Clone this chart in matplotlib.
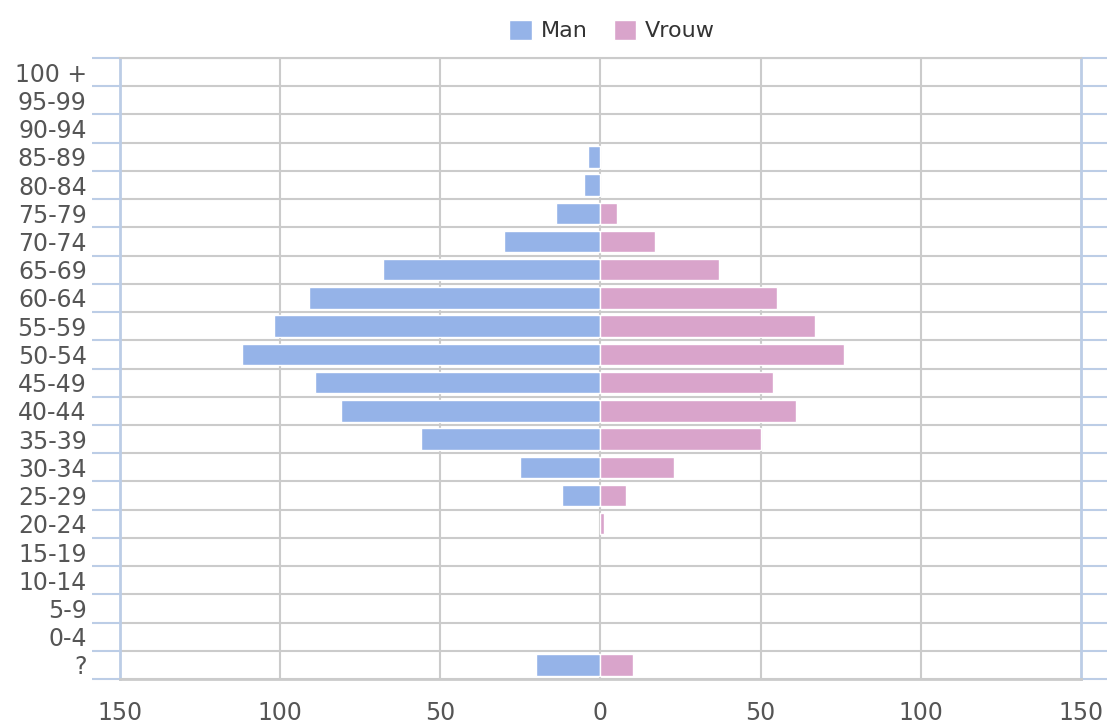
import matplotlib
matplotlib.use("Agg")
import matplotlib.pyplot as plt
import numpy as np

# leeftijdsgroepen, van boven naar beneden
categories = ['100 +', '95-99', '90-94', '85-89', '80-84', '75-79', '70-74', '65-69',
              '60-64', '55-59', '50-54', '45-49', '40-44', '35-39', '30-34', '25-29',
              '20-24', '15-19', '10-14', '5-9', '0-4', '?']
man = [0, 0, 0, 4, 5, 14, 30, 68, 91, 102, 112, 89, 81, 56, 25, 12, 0, 0, 0, 0, 0, 20]
vrouw = [0, 0, 0, 0, 0, 5, 17, 37, 55, 67, 76, 54, 61, 50, 23, 8, 1, 0, 0, 0, 0, 10]
xticks = [-150, -100, -50, 0, 50, 100, 150]

MAN_COLOR = '#95b3e8'
VROUW_COLOR = '#d9a4cb'
GRID = '#cbcbcb'
AXIS_BLUE = '#bccde6'
TEXT = '#555555'

fig = plt.figure(figsize=(11.07, 7.26), dpi=100)
ax = fig.add_axes([0.1084, 0.0647, 0.8681, 0.8554])

y = np.arange(len(categories))
man_arr = np.array(man)
vrouw_arr = np.array(vrouw)
# alleen groepen met waarde tekenen, anders wist de witte rand de nul-lijn
m = man_arr > 0
ax.barh(y[m], -man_arr[m], height=0.76, color=MAN_COLOR, edgecolor='white',
        linewidth=1, label='Man', zorder=3)
v = vrouw_arr > 0
ax.barh(y[v], vrouw_arr[v], height=0.76, color=VROUW_COLOR, edgecolor='white',
        linewidth=1, label='Vrouw', zorder=3)

ax.set_xlim(-150, 150)
ax.set_ylim(len(categories) - 0.5, -0.5)

# x-as
ax.set_xticks(xticks)
ax.set_xticklabels([str(abs(t)) for t in xticks])
ax.tick_params(axis='x', length=0, pad=16, labelsize=17, labelcolor=TEXT)
for t in xticks[1:-1]:
    ax.axvline(t, color=GRID, lw=1.5, zorder=1)

# y-as: labels in het midden, lijnen op de grenzen
ax.set_yticks(y)
ax.set_yticklabels(categories)
ax.tick_params(axis='y', which='major', length=0, pad=24, labelsize=17, labelcolor=TEXT)
bounds = np.arange(len(categories) + 1) - 0.5
ax.set_yticks(bounds, minor=True)
ax.tick_params(axis='y', which='minor', length=20, width=1.5, color=AXIS_BLUE,
               left=True, right=True)
for b in bounds:
    ax.axhline(b, color=GRID, lw=1.5, zorder=1)

for side in ['left', 'right']:
    ax.spines[side].set_color(AXIS_BLUE)
    ax.spines[side].set_linewidth(2)
ax.spines['top'].set_color(GRID)
ax.spines['top'].set_linewidth(1.5)
ax.spines['bottom'].set_color(GRID)
ax.spines['bottom'].set_linewidth(2)

fig.legend(loc='center', bbox_to_anchor=(0.553, 0.958), ncol=2, frameon=False,
           fontsize=16, labelcolor='#333333', handlelength=1.0, handleheight=1.0,
           handletextpad=0.4, columnspacing=1.2)

fig.savefig('out.png', dpi=100)
